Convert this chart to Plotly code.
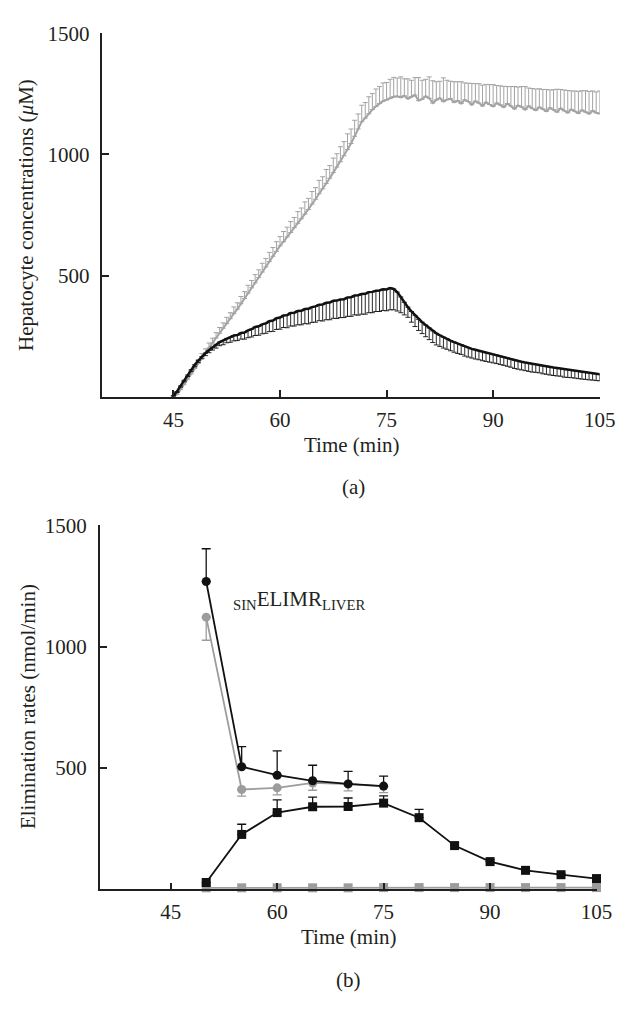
import plotly.graph_objects as go

# ---------------- Panel (a): hepatocyte concentrations ----------------
t_a = [45, 45.5, 46, 46.5, 47, 47.5, 48, 48.5, 49, 49.5,
       50, 50.5, 51, 51.5, 52, 52.5, 53, 53.5, 54, 54.5,
       55, 55.5, 56, 56.5, 57, 57.5, 58, 58.5, 59, 59.5,
       60, 60.5, 61, 61.5, 62, 62.5, 63, 63.5, 64, 64.5,
       65, 65.5, 66, 66.5, 67, 67.5, 68, 68.5, 69, 69.5,
       70, 70.5, 71, 71.5, 72, 72.5, 73, 73.5, 74, 74.5,
       75, 75.5, 76, 76.5, 77, 77.5, 78, 78.5, 79, 79.5,
       80, 80.5, 81, 81.5, 82, 82.5, 83, 83.5, 84, 84.5,
       85, 85.5, 86, 86.5, 87, 87.5, 88, 88.5, 89, 89.5,
       90, 90.5, 91, 91.5, 92, 92.5, 93, 93.5, 94, 94.5,
       95, 95.5, 96, 96.5, 97, 97.5, 98, 98.5, 99, 99.5,
       100, 100.5, 101, 101.5, 102, 102.5, 103, 103.5, 104, 104.5,
       105]

gray_mean = [0, 10, 30, 52, 73, 95, 117, 138, 160, 180,
             202, 222, 243, 262, 283, 302, 322, 343, 362, 384,
             406, 428, 450, 470, 492, 515, 536, 558, 580, 600,
             623, 640, 660, 678, 698, 716, 735, 754, 773, 795,
             815, 838, 858, 880, 902, 925, 948, 970, 995, 1020,
             1045, 1075, 1105, 1135, 1150, 1168, 1185, 1198, 1210, 1220,
             1225, 1232, 1238, 1240, 1235, 1242, 1230, 1238, 1245, 1222,
             1228, 1240, 1232, 1212, 1225, 1232, 1218, 1226, 1230, 1215,
             1222, 1210, 1225, 1218, 1205, 1220, 1212, 1200, 1215, 1206,
             1198, 1212, 1205, 1195, 1210, 1200, 1188, 1202, 1196, 1185,
             1200, 1190, 1182, 1195, 1188, 1178, 1192, 1185, 1175, 1190,
             1180, 1172, 1186, 1178, 1170, 1183, 1175, 1168, 1180, 1172,
             1168]

gray_err = [0, 8, 10, 12, 12, 14, 15, 16, 18, 18,
            20, 20, 22, 24, 22, 26, 25, 28, 26, 30,
            28, 32, 30, 34, 32, 36, 35, 38, 36, 40,
            38, 42, 40, 45, 42, 48, 44, 50, 46, 52,
            48, 55, 50, 58, 52, 60, 55, 62, 58, 65,
            60, 66, 62, 68, 64, 70, 66, 72, 70, 75,
            72, 78, 80, 75, 85, 70, 82, 68, 72, 95,
            78, 70, 88, 92, 75, 70, 98, 80, 72, 85,
            78, 90, 70, 76, 88, 72, 80, 86, 74, 82,
            90, 72, 78, 86, 70, 80, 92, 76, 84, 95,
            74, 82, 88, 76, 80, 90, 74, 82, 94, 78,
            86, 92, 76, 84, 90, 80, 88, 92, 82, 86,
            94]

black_mean = [5, 22, 45, 68, 90, 112, 132, 150, 166, 180,
              192, 205, 215, 226, 232, 241, 245, 253, 255, 263,
              265, 274, 279, 288, 291, 299, 303, 312, 315, 324,
              327, 336, 337, 346, 347, 354, 355, 362, 363, 370,
              373, 380, 381, 388, 389, 396, 397, 402, 403, 410,
              411, 418, 419, 424, 425, 432, 433, 438, 439, 444,
              443, 449, 445, 432, 412, 390, 370, 352, 336, 320,
              308, 296, 284, 272, 262, 254, 246, 240, 232, 226,
              220, 215, 208, 203, 198, 194, 190, 186, 182, 179,
              175, 172, 168, 164, 160, 156, 151, 148, 145, 142,
              139, 136, 134, 132, 128, 126, 123, 121, 119, 117,
              114, 112, 110, 108, 105, 103, 101, 99, 97, 95,
              93]

black_err = [2, 4, 5, 6, 6, 7, 8, 8, 9, 10,
             10, 12, 14, 15, 17, 18, 20, 22, 23, 25,
             27, 30, 32, 35, 37, 39, 41, 43, 45, 46,
             48, 50, 52, 54, 55, 57, 58, 60, 62, 63,
             65, 66, 68, 70, 71, 72, 74, 75, 76, 78,
             79, 80, 82, 83, 84, 85, 86, 86, 87, 88,
             88, 90, 86, 78, 65, 52, 42, 44, 46, 46,
             47, 48, 48, 48, 48, 46, 45, 44, 42, 42,
             41, 40, 40, 39, 38, 38, 37, 37, 36, 36,
             35, 35, 35, 34, 34, 34, 34, 34, 34, 34,
             34, 34, 33, 33, 33, 33, 33, 33, 33, 32,
             33, 32, 31, 31, 30, 30, 29, 29, 28, 28,
             27]

zeros_a = [0] * len(t_a)

# ---------------- Panel (b): elimination rates ----------------
t_b = [50, 55, 60, 65, 70, 75, 80, 85, 90, 95, 100, 105]

sin_black_t = [50, 55, 60, 65, 70, 75]
sin_black = [1268, 505, 470, 447, 434, 425]
sin_black_err = [135, 83, 100, 64, 52, 41]

sin_gray_t = [50, 55, 60, 65, 70, 75]
sin_gray = [1121, 411, 418, 438, 433, 424]
sin_gray_err = [95, 27, 29, 30, 28, 26]

hc_black = [28, 226, 316, 340, 341, 355, 295, 180, 114, 78, 60, 44]
hc_black_err = [0, 42, 52, 40, 35, 30, 34, 12, 8, 5, 4, 4]

hc_gray = [6, 6, 6, 6, 6, 7, 7, 7, 7, 7, 7, 7]

x_ticks = [45, 60, 75, 90, 105]
y_ticks = [500, 1000, 1500]

# ---------------- styling ----------------
W, H = 644, 1022
FONT = "Liberation Serif"
TXT = "#231f20"
GRAY = "#a3a3a3"
BLACK = "#111111"
GRAY_B = "#9c9c9c"


def px(x):
    return x / W


def py(y):
    return 1 - y / H


fig = go.Figure()

fig.add_trace(go.Scatter(
    x=t_a, y=gray_mean, mode="lines",
    line=dict(color=GRAY, width=2),
    error_y=dict(type="data", symmetric=False, array=gray_err, arrayminus=zeros_a,
                 color=GRAY, thickness=1, width=2.5),
    xaxis="x", yaxis="y", cliponaxis=False, showlegend=False))
fig.add_trace(go.Scatter(
    x=t_a, y=black_mean, mode="lines",
    line=dict(color=BLACK, width=2.5),
    error_y=dict(type="data", symmetric=False, array=zeros_a, arrayminus=black_err,
                 color=BLACK, thickness=0.9, width=2.5),
    xaxis="x", yaxis="y", cliponaxis=False, showlegend=False))

fig.add_trace(go.Scatter(
    x=t_b, y=hc_gray, mode="lines+markers",
    line=dict(color=GRAY_B, width=1.8),
    marker=dict(symbol="square", size=9, color=GRAY_B),
    xaxis="x2", yaxis="y2", cliponaxis=False, showlegend=False))
fig.add_trace(go.Scatter(
    x=sin_gray_t, y=sin_gray, mode="lines+markers",
    line=dict(color=GRAY_B, width=1.8),
    marker=dict(symbol="circle", size=9, color=GRAY_B),
    error_y=dict(type="data", symmetric=False, array=[0] * len(sin_gray),
                 arrayminus=sin_gray_err, color=GRAY_B, thickness=1.3, width=4.5),
    xaxis="x2", yaxis="y2", cliponaxis=False, showlegend=False))
fig.add_trace(go.Scatter(
    x=t_b, y=hc_black, mode="lines+markers",
    line=dict(color=BLACK, width=1.8),
    marker=dict(symbol="square", size=9, color=BLACK),
    error_y=dict(type="data", symmetric=False, array=hc_black_err,
                 arrayminus=[0] * len(hc_black), color=BLACK, thickness=1.3, width=4.5),
    xaxis="x2", yaxis="y2", cliponaxis=False, showlegend=False))
fig.add_trace(go.Scatter(
    x=sin_black_t, y=sin_black, mode="lines+markers",
    line=dict(color=BLACK, width=1.8),
    marker=dict(symbol="circle", size=9, color=BLACK),
    error_y=dict(type="data", symmetric=False, array=sin_black_err,
                 arrayminus=[0] * len(sin_black), color=BLACK, thickness=1.3, width=4.5),
    xaxis="x2", yaxis="y2", cliponaxis=False, showlegend=False))

axis_common = dict(
    showline=True, linecolor=TXT, linewidth=1.5, showgrid=False, zeroline=False,
    ticks="inside", ticklen=7, tickwidth=1.5, tickcolor=TXT,
    tickfont=dict(family=FONT, size=21, color=TXT), fixedrange=True,
)
xaxis_common = dict(axis_common, ticklabelstandoff=3)
yaxis_common = dict(axis_common, ticklabelstandoff=7)

fig.update_layout(
    width=W, height=H, margin=dict(l=0, r=0, t=0, b=0),
    paper_bgcolor="white", plot_bgcolor="white",
    xaxis=dict(xaxis_common, domain=[px(105), px(615)], range=[35, 105],
               tickvals=x_ticks, anchor="y"),
    yaxis=dict(yaxis_common, domain=[py(389.4), py(21.5)], range=[0, 1500],
               tickvals=y_ticks, anchor="x"),
    xaxis2=dict(xaxis_common, domain=[px(102.3), px(611.7)], range=[35, 105],
                tickvals=x_ticks, anchor="y2"),
    yaxis2=dict(yaxis_common, domain=[py(887.7), py(519.3)], range=[0, 1500],
                tickvals=y_ticks, anchor="x2"),
    font=dict(family=FONT, color=TXT),
)

ann_font = dict(family=FONT, size=21, color=TXT)
annotations = [
    dict(text="Time (min)", x=px(360), y=py(438), xref="paper", yref="paper",
         showarrow=False, font=ann_font, xanchor="center", yanchor="middle"),
    dict(text="(a)", x=px(362), y=py(481), xref="paper", yref="paper",
         showarrow=False, font=ann_font, xanchor="center", yanchor="middle"),
    dict(text="Hepatocyte concentrations (<i>μ</i>M)", x=px(26), y=py(205),
         xref="paper", yref="paper", textangle=-90,
         showarrow=False, font=ann_font, xanchor="center", yanchor="middle"),
    dict(text="Time (min)", x=px(357), y=py(936), xref="paper", yref="paper",
         showarrow=False, font=ann_font, xanchor="center", yanchor="middle"),
    dict(text="(b)", x=px(357), y=py(980), xref="paper", yref="paper",
         showarrow=False, font=ann_font, xanchor="center", yanchor="middle"),
    dict(text="Elimination rates (nmol/min)", x=px(28), y=py(703),
         xref="paper", yref="paper", textangle=-90,
         showarrow=False, font=ann_font, xanchor="center", yanchor="middle"),
    dict(text="<sub>SIN</sub>ELIMR<sub>LIVER</sub>", x=53.5, y=1190,
         xref="x2", yref="y2", showarrow=False, font=ann_font,
         xanchor="left", yanchor="middle"),
    dict(text="<sub>HC</sub>ELIMR<sub>BC</sub>", x=105.7, y=252,
         xref="x2", yref="y2", showarrow=False, font=ann_font,
         xanchor="right", yanchor="middle"),
]
fig.update_layout(annotations=annotations)

fig.write_html(
    "out.html",
    config={"displayModeBar": False},
    post_script="document.body.style.margin='0px';document.body.style.overflow='hidden';",
)
